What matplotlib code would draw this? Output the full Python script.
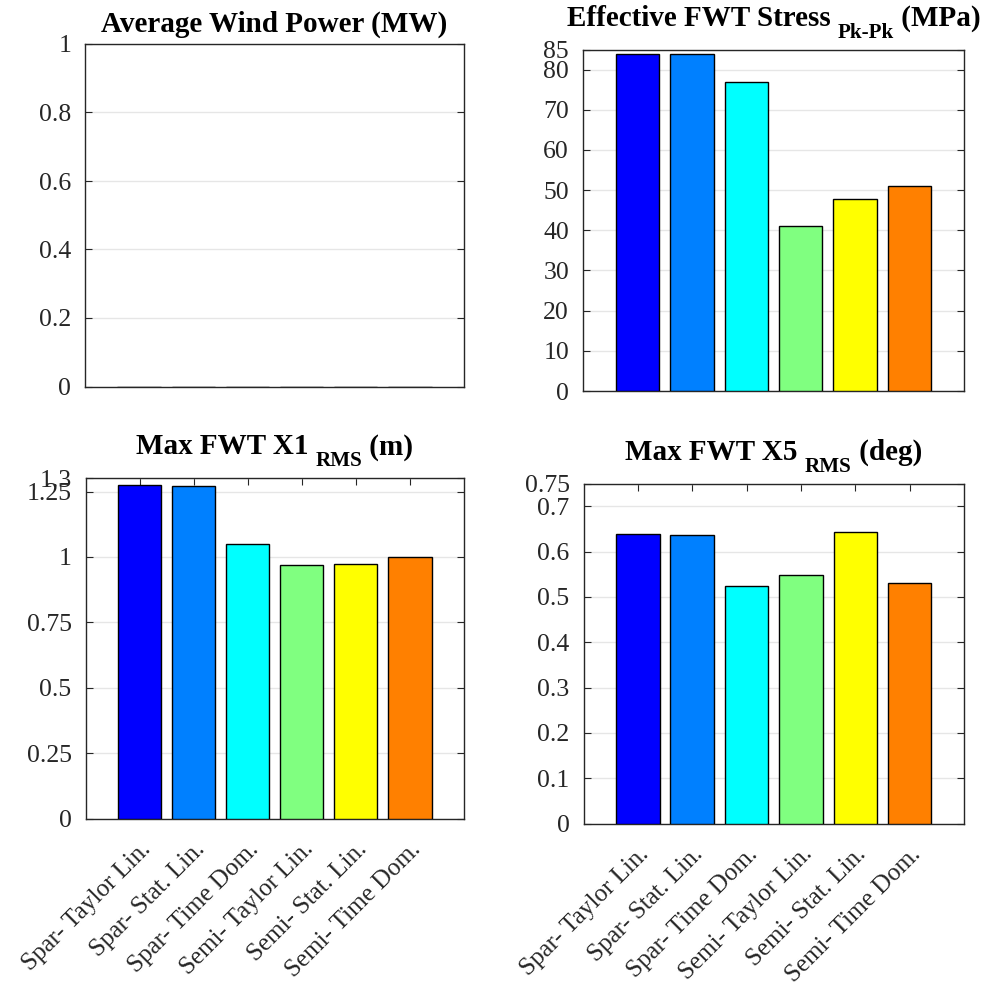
import matplotlib
matplotlib.use("Agg")
import matplotlib.pyplot as plt
import numpy as np

plt.rcParams['font.family'] = ['Liberation Serif', 'DejaVu Serif']

categories = ["Spar- Taylor Lin.", "Spar- Stat. Lin.", "Spar- Time Dom.",
              "Semi- Taylor Lin.", "Semi- Stat. Lin.", "Semi- Time Dom."]
wind_power = [0, 0, 0, 0, 0, 0]
stress_pkpk = [84.0, 83.8, 76.8, 41.1, 47.9, 51.0]
x1_rms = [1.277, 1.271, 1.049, 0.971, 0.975, 1.001]
x5_rms = [0.639, 0.637, 0.525, 0.549, 0.643, 0.531]
colors = ["#0000ff", "#0080ff", "#00ffff", "#80ff80", "#ffff00", "#ff8000"]

panels = [
    dict(vals=wind_power, title=["Average Wind Power (MW)"],
         yt=[0, 0.2, 0.4, 0.6, 0.8, 1], ytl=["0", "0.2", "0.4", "0.6", "0.8", "1"],
         ylim=1.0, pos=[85, 44, 464, 386.5], xl=False),
    dict(vals=stress_pkpk, title=["Effective FWT Stress ", "Pk-Pk", " (MPa)"],
         yt=[0, 10, 20, 30, 40, 50, 60, 70, 80, 85],
         ytl=["0", "10", "20", "30", "40", "50", "60", "70", "80", "85"],
         ylim=85, pos=[583, 49.5, 964, 391], xl=False),
    dict(vals=x1_rms, title=["Max FWT X1 ", "RMS", " (m)"],
         yt=[0, 0.25, 0.5, 0.75, 1, 1.25, 1.3],
         ytl=["0", "0.25", "0.5", "0.75", "1", "1.25", "1.3"],
         ylim=1.3, pos=[85.5, 478.5, 464, 818.5], xl=True),
    dict(vals=x5_rms, title=["Max FWT X5 ", "RMS", " (deg)"],
         yt=[0, 0.1, 0.2, 0.3, 0.4, 0.5, 0.6, 0.7, 0.75],
         ytl=["0", "0.1", "0.2", "0.3", "0.4", "0.5", "0.6", "0.7", "0.75"],
         ylim=0.75, pos=[583.5, 483.5, 964, 823.5], xl=True),
]

W, H = 992, 993
fig = plt.figure(figsize=(W / 100, H / 100), dpi=100)
renderer = fig.canvas.get_renderer()
frame_c = "#262626"
TFS = 21
x = np.arange(1, len(categories) + 1)


def draw_title(ax, parts, top_px):
    has_sub = len(parts) == 3
    base_y = top_px - (24 if has_sub else 12)
    sizes = [TFS, TFS * 0.72, TFS] if has_sub else [TFS]
    offs = [0, -12, 0] if has_sub else [0]
    texts = []
    widths = []
    for s, fs in zip(parts, sizes):
        t = fig.text(0, 0, s, fontsize=fs, fontweight="bold", va="baseline", ha="left")
        bb = t.get_window_extent(renderer)
        widths.append(bb.width)
        texts.append(t)
    total = sum(widths)
    bbax = ax.get_window_extent(renderer)
    cx = (bbax.x0 + bbax.x1) / 2
    xcur = cx - total / 2
    for t, w, o in zip(texts, widths, offs):
        t.set_position((xcur / W, 1 - (base_y - o) / H))
        xcur += w


for p in panels:
    l, t, r, b = p["pos"]
    ax = fig.add_axes([l / W, 1 - b / H, (r - l) / W, (b - t) / H])
    ax.bar(x, p["vals"], width=0.8, color=colors, edgecolor="black", linewidth=1.0, zorder=3)
    ax.set_xlim(0, 7)
    ax.set_ylim(0, p["ylim"])
    ax.set_yticks(p["yt"])
    ax.set_yticklabels(p["ytl"])
    ax.yaxis.grid(True, color="#e6e6e6", linewidth=1.0, zorder=0)
    ax.set_axisbelow(True)
    ax.tick_params(axis="y", direction="in", left=True, right=True, length=5,
                   labelsize=18.5, colors=frame_c, labelcolor=frame_c, pad=10)
    if p["xl"]:
        ax.set_xticks(x)
        ax.set_xticklabels(categories, rotation=45, ha="right", rotation_mode="anchor")
        ax.tick_params(axis="x", direction="in", top=True, bottom=True, length=5,
                       labelsize=18, colors=frame_c, labelcolor=frame_c, pad=14)
    else:
        ax.set_xticks([])
    for s in ax.spines.values():
        s.set_color(frame_c)
        s.set_linewidth(1.0)
    draw_title(ax, p["title"], t)

fig.savefig("out.png", dpi=100)
